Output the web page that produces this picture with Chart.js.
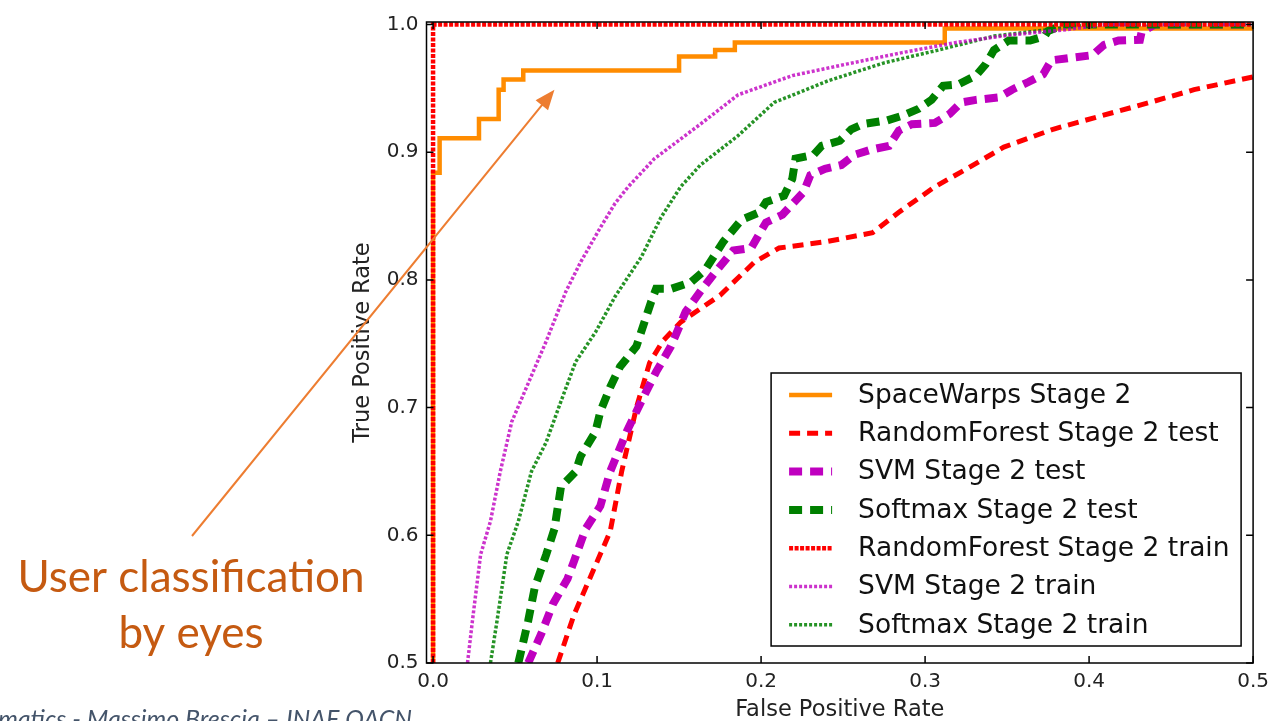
<!DOCTYPE html>
<html>
<head>
<meta charset="utf-8">
<title>ROC - Stage 2</title>
<script src="https://cdn.jsdelivr.net/npm/chart.js@4.4.1/dist/chart.umd.min.js"></script>
<style>
    html, body { margin: 0; padding: 0; background: #fff; }
    #wrap { width: 1276px; height: 721px; }
</style>
</head>
<body>
<div id="wrap"><canvas id="rocChart"></canvas></div>
<script>
// Axis ticks
const xTicks = [0.0, 0.1, 0.2, 0.3, 0.4, 0.5];
const yTicks = [0.5, 0.6, 0.7, 0.8, 0.9, 1.0];

// SpaceWarps Stage 2 (step curve)
const swFpr = [0, 0, 0.004, 0.028, 0.040, 0.043, 0.055, 0.150, 0.172, 0.184, 0.312, 0.5];
const swTpr = [0.5, 0.884, 0.911, 0.926, 0.949, 0.957, 0.964, 0.975, 0.980, 0.986, 0.997, 0.997];

// RandomForest Stage 2 test
const rfTestFpr = [0.076, 0.086, 0.108, 0.115, 0.124, 0.132, 0.140, 0.151, 0.175, 0.196, 0.211, 0.240, 0.268, 0.284, 0.306, 0.324, 0.348, 0.378, 0.406, 0.437, 0.464, 0.500];
const rfTestTpr = [0.5, 0.538, 0.603, 0.650, 0.700, 0.735, 0.752, 0.767, 0.788, 0.814, 0.825, 0.830, 0.837, 0.853, 0.873, 0.886, 0.904, 0.918, 0.928, 0.939, 0.949, 0.959];

// SVM Stage 2 test
const svmTestFpr = [0.058, 0.066, 0.073, 0.082, 0.086, 0.093, 0.102, 0.108, 0.118, 0.127, 0.136, 0.145, 0.154, 0.163, 0.172, 0.183, 0.194, 0.203, 0.213, 0.226, 0.230, 0.239, 0.249, 0.257, 0.267, 0.278, 0.284, 0.292, 0.306, 0.315, 0.322, 0.331, 0.345, 0.353, 0.363, 0.372, 0.377, 0.389, 0.402, 0.409, 0.418, 0.431, 0.432, 0.440, 0.500];
const svmTestTpr = [0.5, 0.523, 0.546, 0.566, 0.580, 0.605, 0.623, 0.650, 0.681, 0.705, 0.728, 0.748, 0.775, 0.791, 0.806, 0.823, 0.825, 0.845, 0.851, 0.869, 0.882, 0.887, 0.890, 0.898, 0.902, 0.905, 0.917, 0.922, 0.923, 0.930, 0.939, 0.941, 0.943, 0.949, 0.955, 0.961, 0.972, 0.974, 0.976, 0.984, 0.9875, 0.988, 0.994, 1.0, 1.0];

// Softmax Stage 2 test
const smTestFpr = [0.052, 0.058, 0.062, 0.069, 0.074, 0.078, 0.087, 0.090, 0.099, 0.102, 0.108, 0.114, 0.124, 0.133, 0.136, 0.145, 0.157, 0.166, 0.177, 0.188, 0.199, 0.203, 0.214, 0.219, 0.221, 0.232, 0.237, 0.248, 0.255, 0.262, 0.277, 0.287, 0.296, 0.304, 0.311, 0.320, 0.331, 0.337, 0.342, 0.351, 0.364, 0.373, 0.375, 0.385, 0.500];
const smTestTpr = [0.5, 0.533, 0.559, 0.585, 0.605, 0.638, 0.650, 0.662, 0.681, 0.697, 0.716, 0.732, 0.748, 0.783, 0.793, 0.793, 0.798, 0.808, 0.830, 0.847, 0.853, 0.861, 0.866, 0.879, 0.895, 0.898, 0.905, 0.909, 0.918, 0.922, 0.925, 0.929, 0.934, 0.941, 0.952, 0.953, 0.960, 0.969, 0.980, 0.9875, 0.9875, 0.991, 0.995, 1.0, 1.0];

// RandomForest Stage 2 train
const rfTrainFpr = [0, 0, 0.5];
const rfTrainTpr = [0.5, 1.0, 1.0];

// SVM Stage 2 train
const svmTrainFpr = [0.021, 0.024, 0.029, 0.035, 0.041, 0.048, 0.057, 0.069, 0.081, 0.090, 0.102, 0.111, 0.119, 0.135, 0.163, 0.186, 0.219, 0.252, 0.286, 0.319, 0.353, 0.386, 0.410, 0.500];
const svmTrainTpr = [0.5, 0.533, 0.585, 0.611, 0.650, 0.689, 0.716, 0.752, 0.791, 0.814, 0.841, 0.860, 0.873, 0.895, 0.922, 0.945, 0.960, 0.969, 0.978, 0.986, 0.992, 0.996, 1.0, 1.0];

// Softmax Stage 2 train
const smTrainFpr = [0.035, 0.039, 0.045, 0.052, 0.060, 0.069, 0.078, 0.087, 0.099, 0.111, 0.127, 0.139, 0.151, 0.163, 0.186, 0.208, 0.241, 0.275, 0.308, 0.342, 0.375, 0.400, 0.500];
const smTrainTpr = [0.5, 0.533, 0.585, 0.611, 0.650, 0.673, 0.705, 0.736, 0.759, 0.787, 0.818, 0.849, 0.873, 0.890, 0.913, 0.939, 0.956, 0.970, 0.980, 0.991, 0.996, 1.0, 1.0];

const FONT = "'DejaVu Sans', sans-serif";

function toPoints(xs, ys) {
    return xs.map((x, i) => ({ x: x, y: ys[i] }));
}

function series(label, xs, ys, color, width, dash, order, extra) {
    return Object.assign({
        label: label,
        data: toPoints(xs, ys),
        borderColor: color,
        backgroundColor: color,
        borderWidth: width,
        borderDash: dash,
        pointRadius: 0,
        fill: false,
        tension: 0,
        order: order
    }, extra || {});
}

// Box, inward ticks on all four sides
const framePlugin = {
    id: 'frame',
    afterDatasetsDraw(chart) {
        const { ctx, chartArea: a, scales } = chart;
        ctx.save();
        ctx.strokeStyle = '#000';
        ctx.lineWidth = 1.5;
        ctx.strokeRect(a.left, a.top, a.right - a.left, a.bottom - a.top);
        ctx.beginPath();
        xTicks.forEach(v => {
            const px = scales.x.getPixelForValue(v);
            ctx.moveTo(px, a.bottom); ctx.lineTo(px, a.bottom - 7);
            ctx.moveTo(px, a.top); ctx.lineTo(px, a.top + 7);
        });
        yTicks.forEach(v => {
            const py = scales.y.getPixelForValue(v);
            ctx.moveTo(a.left, py); ctx.lineTo(a.left + 7, py);
            ctx.moveTo(a.right, py); ctx.lineTo(a.right - 7, py);
        });
        ctx.stroke();
        ctx.restore();
    }
};

// Legend box in the lower right of the plot
const legendPlugin = {
    id: 'boxLegend',
    afterDraw(chart) {
        const { ctx, chartArea: a } = chart;
        const sets = chart.data.datasets;
        const rowH = 38.3;
        const right = a.right - 12, bottom = a.bottom - 17;
        const left = right - 470, top = bottom - 273;
        ctx.save();
        ctx.fillStyle = '#fff';
        ctx.fillRect(left, top, right - left, bottom - top);
        ctx.strokeStyle = '#000';
        ctx.lineWidth = 1.5;
        ctx.strokeRect(left, top, right - left, bottom - top);
        ctx.font = '26.5px ' + FONT;
        ctx.textBaseline = 'middle';
        sets.forEach((ds, i) => {
            const y = top + 22 + i * rowH;
            ctx.beginPath();
            ctx.strokeStyle = ds.borderColor;
            ctx.lineWidth = ds.borderWidth;
            ctx.setLineDash(ds.borderDash || []);
            ctx.moveTo(left + 18, y);
            ctx.lineTo(left + 61, y);
            ctx.stroke();
            ctx.setLineDash([]);
            ctx.fillStyle = '#111';
            ctx.fillText(ds.label, left + 87, y + 1);
        });
        ctx.restore();
    }
};

// Arrow, handwritten note and footer outside the axes
const notePlugin = {
    id: 'note',
    afterDraw(chart) {
        const { ctx, scales } = chart;
        const tipX = scales.x.getPixelForValue(0.074);
        const tipY = scales.y.getPixelForValue(0.949);
        const tailX = 192, tailY = 536;
        const ang = Math.atan2(tipY - tailY, tipX - tailX);
        ctx.save();
        ctx.strokeStyle = '#ED7D31';
        ctx.fillStyle = '#ED7D31';
        ctx.lineWidth = 2;
        ctx.beginPath();
        ctx.moveTo(tailX, tailY);
        ctx.lineTo(tipX - 14 * Math.cos(ang), tipY - 14 * Math.sin(ang));
        ctx.stroke();
        ctx.beginPath();
        ctx.moveTo(tipX, tipY);
        ctx.lineTo(tipX - 20 * Math.cos(ang) + 8 * Math.sin(ang), tipY - 20 * Math.sin(ang) - 8 * Math.cos(ang));
        ctx.lineTo(tipX - 20 * Math.cos(ang) - 8 * Math.sin(ang), tipY - 20 * Math.sin(ang) + 8 * Math.cos(ang));
        ctx.closePath();
        ctx.fill();

        ctx.fillStyle = '#C55A11';
        ctx.font = "44px Lato, 'Open Sans', sans-serif";
        ctx.textAlign = 'center';
        ctx.textBaseline = 'alphabetic';
        ctx.fillText('User classification', 191, 592);
        ctx.fillText('by eyes', 191, 648);

        ctx.fillStyle = '#44546A';
        ctx.font = "italic 25px Lato, 'Open Sans', sans-serif";
        ctx.textAlign = 'right';
        ctx.fillText('Astroinformatics - Massimo Brescia \u2013 INAF OACN', 412, 728);
        ctx.restore();
    }
};

new Chart(document.getElementById('rocChart'), {
    type: 'line',
    data: {
        datasets: [
            series('SpaceWarps Stage 2', swFpr, swTpr, '#FF8C00', 4.5, [], 7, { stepped: 'before' }),
            series('RandomForest Stage 2 test', rfTestFpr, rfTestTpr, '#FF0000', 5, [11, 7], 6),
            series('SVM Stage 2 test', svmTestFpr, svmTestTpr, '#BF00BF', 8, [13, 8], 5),
            series('Softmax Stage 2 test', smTestFpr, smTestTpr, '#008000', 8, [13, 8], 4),
            series('RandomForest Stage 2 train', rfTrainFpr, rfTrainTpr, '#FF0000', 4.5, [4, 1.5], 1),
            series('SVM Stage 2 train', svmTrainFpr, svmTrainTpr, 'rgba(191,0,191,0.8)', 3.5, [3, 2], 2),
            series('Softmax Stage 2 train', smTrainFpr, smTrainTpr, 'rgba(0,128,0,0.85)', 3.5, [3, 2], 3)
        ]
    },
    options: {
        responsive: true,
        maintainAspectRatio: false,
        animation: false,
        layout: { padding: { left: 352, right: 22, top: 22, bottom: 0 } },
        plugins: {
            legend: { display: false },
            tooltip: { enabled: false }
        },
        scales: {
            x: {
                type: 'linear',
                min: -0.004,
                max: 0.5,
                grid: { display: false, drawTicks: false },
                border: { display: false },
                afterBuildTicks: scale => { scale.ticks = xTicks.map(v => ({ value: v })); },
                afterFit: scale => { scale.height = 58; },
                ticks: {
                    color: '#222',
                    font: { family: FONT, size: 20 },
                    padding: 7,
                    maxRotation: 0,
                    callback: v => v.toFixed(1)
                },
                title: {
                    display: true,
                    text: 'False Positive Rate',
                    color: '#222',
                    font: { family: FONT, size: 22.5, lineHeight: 1 },
                    padding: 0
                }
            },
            y: {
                type: 'linear',
                min: 0.5,
                max: 1.002,
                grid: { display: false, drawTicks: false },
                border: { display: false },
                afterBuildTicks: scale => { scale.ticks = yTicks.map(v => ({ value: v })); },
                afterFit: scale => { scale.width = 74.5; },
                ticks: {
                    color: '#222',
                    font: { family: FONT, size: 20 },
                    padding: 8,
                    callback: v => v.toFixed(1)
                },
                title: {
                    display: true,
                    text: 'True Positive Rate',
                    color: '#222',
                    font: { family: FONT, size: 22.5, lineHeight: 1 },
                    padding: 0
                }
            }
        }
    },
    plugins: [framePlugin, legendPlugin, notePlugin]
});
</script>
</body>
</html>
